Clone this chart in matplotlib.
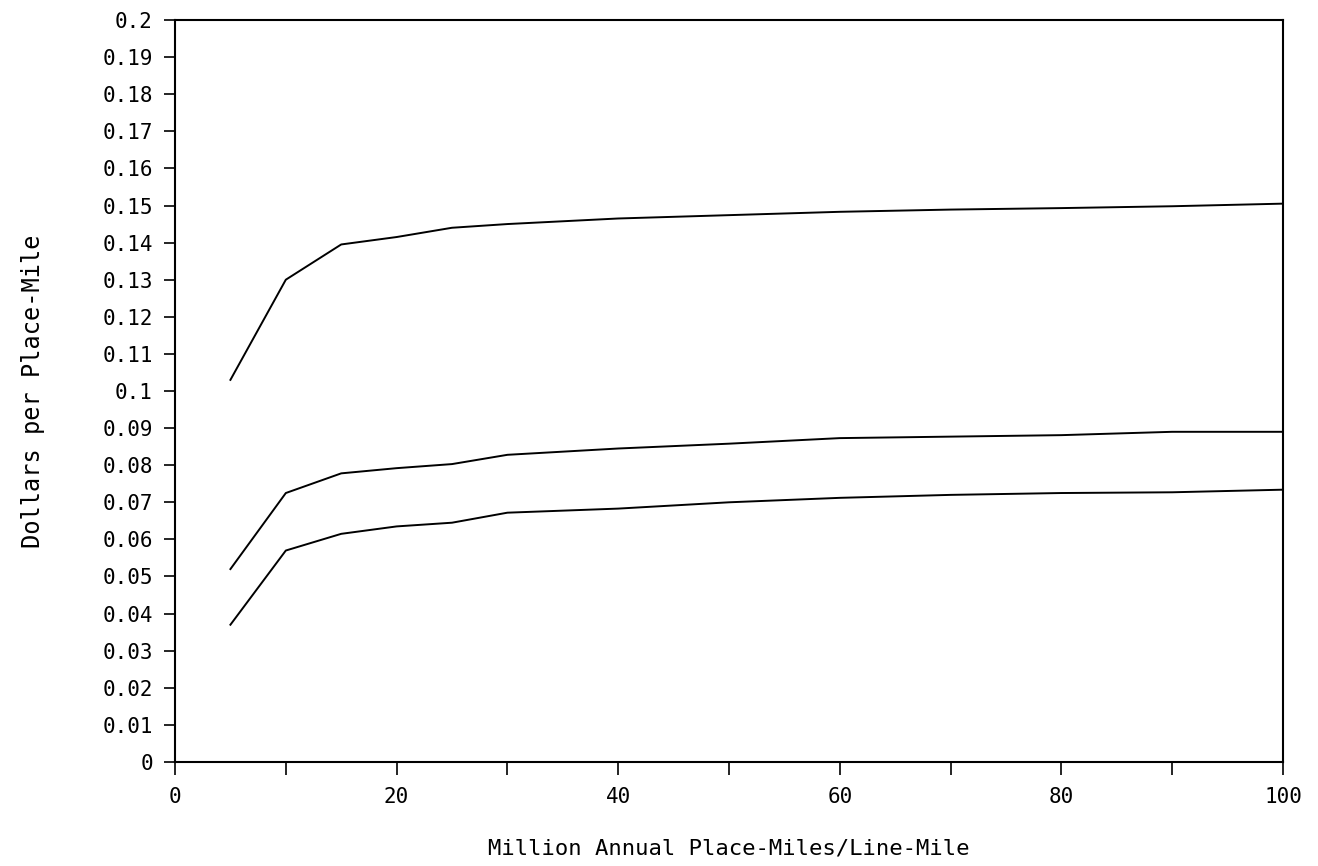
import matplotlib.pyplot as plt
import numpy as np

# data
x = [5, 10, 15, 20, 25, 30, 40, 50, 60, 70, 80, 90, 100]
upper = [0.103, 0.130, 0.1395, 0.1415, 0.1440, 0.1450, 0.1465, 0.1474,
         0.1483, 0.1489, 0.1493, 0.1498, 0.1505]
middle = [0.052, 0.0725, 0.0778, 0.0792, 0.0803, 0.0828, 0.0845, 0.0858,
          0.0873, 0.0877, 0.0881, 0.0890, 0.0890]
lower = [0.037, 0.057, 0.0615, 0.0635, 0.0645, 0.0672, 0.0683, 0.0700,
         0.0712, 0.0720, 0.0725, 0.0727, 0.0734]

x_major = [0, 20, 40, 60, 80, 100]
x_minor = [10, 30, 50, 70, 90]
y_ticks = [i / 100 for i in range(21)]
y_labels = ['0'] + ['%g' % round(v, 2) for v in y_ticks[1:]]

# wide monospaced glyphs look closer to the old plotter lettering
plt.rcParams['font.family'] = ['DejaVu Sans Mono', 'DejaVu Sans']

fig = plt.figure(figsize=(13.18, 8.66), dpi=100)
ax = fig.add_axes([0.1328, 0.1201, 0.8406, 0.8568])

for ys in (upper, middle, lower):
    ax.plot(x, ys, color='black', linewidth=1.4)

ax.set_xlim(0, 100)
ax.set_ylim(0, 0.2)

ax.set_xticks(x_major)
ax.set_xticklabels([str(v) for v in x_major])
ax.set_xticks(x_minor, minor=True)
ax.set_yticks(y_ticks)
ax.set_yticklabels(y_labels)

ax.tick_params(axis='x', which='both', direction='out', length=9, width=1.2,
               pad=9, labelsize=15, colors='black')
ax.tick_params(axis='y', direction='out', length=8, width=1.2,
               pad=8, labelsize=15, colors='black')

for s in ax.spines.values():
    s.set_linewidth(1.5)

ax.set_xlabel('Million Annual Place-Miles/Line-Mile', fontsize=16)
ax.set_ylabel('Dollars per Place-Mile', fontsize=17)
ax.xaxis.set_label_coords(0.5, -0.103)
ax.yaxis.set_label_coords(-0.117, 0.5)

plt.savefig('out.png', dpi=100)
